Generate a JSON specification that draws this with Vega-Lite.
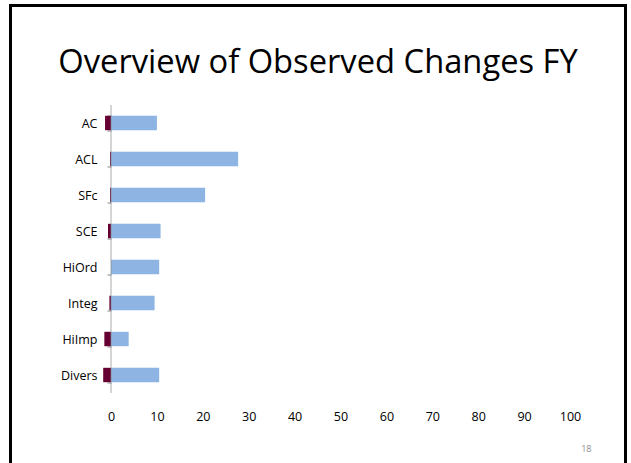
{
  "$schema": "https://vega.github.io/schema/vega-lite/v6.json",
  "width": 615,
  "height": 465,
  "autosize": {"type": "none"},
  "padding": {"left": 10.5, "top": 5.5, "right": 5.5, "bottom": -7.5},
  "background": "#ffffff",
  "config": {
    "view": {"stroke": "#000000", "strokeWidth": 3},
    "font": "Open Sans"
  },
  "title": {
    "text": "Overview of Observed Changes FY",
    "font": "Open Sans",
    "fontSize": 32.7,
    "fontWeight": "normal",
    "color": "#000000",
    "anchor": "middle",
    "frame": "group",
    "baseline": "alphabetic",
    "offset": -106.5
  },
  "data": {
    "values": [
      {"cat": "AC", "series": "Decrease", "value": -1.3},
      {"cat": "AC", "series": "Increase", "value": 10.0},
      {"cat": "ACL", "series": "Decrease", "value": -0.2},
      {"cat": "ACL", "series": "Increase", "value": 27.7},
      {"cat": "SFc", "series": "Decrease", "value": -0.2},
      {"cat": "SFc", "series": "Increase", "value": 20.5},
      {"cat": "SCE", "series": "Decrease", "value": -0.65},
      {"cat": "SCE", "series": "Increase", "value": 10.8},
      {"cat": "HiOrd", "series": "Decrease", "value": 0},
      {"cat": "HiOrd", "series": "Increase", "value": 10.5},
      {"cat": "Integ", "series": "Decrease", "value": -0.35},
      {"cat": "Integ", "series": "Increase", "value": 9.5},
      {"cat": "HiImp", "series": "Decrease", "value": -1.45},
      {"cat": "HiImp", "series": "Increase", "value": 3.85},
      {"cat": "Divers", "series": "Decrease", "value": -1.7},
      {"cat": "Divers", "series": "Increase", "value": 10.5}
    ]
  },
  "encoding": {
    "y": {
      "field": "cat",
      "type": "nominal",
      "sort": null,
      "scale": {"range": [99.5, 387.5], "paddingInner": 0.6, "paddingOuter": 0.3},
      "axis": {
        "title": null,
        "orient": "left",
        "offset": -100.5,
        "domain": false,
        "ticks": true,
        "tickBand": "extent",
        "tickSize": 4,
        "tickColor": "#868686",
        "labelPadding": 10,
        "labelFont": "Open Sans",
        "labelFontSize": 12.5,
        "labelColor": "#000000"
      }
    }
  },
  "layer": [
    {
      "mark": {"type": "bar"},
      "encoding": {
        "x": {
          "field": "value",
          "type": "quantitative",
          "stack": "zero",
          "scale": {"domain": [-21.895, 112.09], "nice": false, "zero": false},
          "axis": {
            "orient": "bottom",
            "offset": -54.1,
            "values": [0, 10, 20, 30, 40, 50, 60, 70, 80, 90, 100],
            "domain": false,
            "ticks": false,
            "tickSize": 0,
            "grid": false,
            "labelPadding": 0,
            "labelBaseline": "middle",
            "labelFont": "Open Sans",
            "labelFontSize": 12.5,
            "labelColor": "#000000",
            "title": "18",
            "titleFont": "Open Sans",
            "titleFontSize": 9,
            "titleFontWeight": "normal",
            "titleColor": "#8c8c8c",
            "titleAlign": "right",
            "titleBaseline": "middle",
            "titleX": 580.5,
            "titleY": 31.6
          }
        },
        "color": {
          "field": "series",
          "type": "nominal",
          "scale": {"domain": ["Decrease", "Increase"], "range": ["#660033", "#8DB4E2"]},
          "legend": null
        }
      }
    },
    {
      "transform": [{"filter": "datum.series === 'Increase'"}],
      "mark": {"type": "tick", "orient": "vertical", "size": 36, "thickness": 1, "color": "#868686"},
      "encoding": {
        "x": {"datum": 0, "type": "quantitative"}
      }
    }
  ]
}
